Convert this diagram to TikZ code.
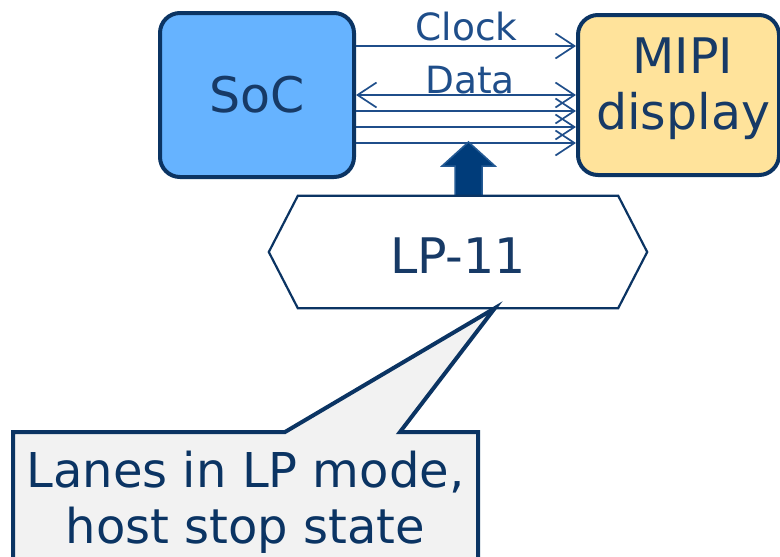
\documentclass[tikz,border=0pt]{standalone}
\usepackage{fontspec}
\setmainfont{DejaVu Sans}
\usetikzlibrary{arrows.meta,calc}
\definecolor{navy}{HTML}{0B3463}
\definecolor{inktext}{HTML}{173A66}
\definecolor{wire}{HTML}{1F4E8A}
\definecolor{socfill}{HTML}{66B3FF}
\definecolor{dispfill}{HTML}{FFE39B}
\definecolor{boltfill}{HTML}{003C7A}
\definecolor{boltedge}{HTML}{245A94}
\definecolor{notefill}{HTML}{F2F2F2}
\tikzset{
  unit/.style={draw=navy, line width=4pt, rounded corners=20pt},
  bigtext/.style={text=inktext, font=\fontsize{49}{56}\selectfont, inner sep=0pt},
  wiretext/.style={text=wire, font=\fontsize{37.5}{42}\selectfont, inner sep=0pt, anchor=base},
  sig/.style={draw=wire, line width=1.7pt},
  barb/.tip={Straight Barb[length=19pt,width=25pt,line width=1.7pt]},
  hexline/.style={draw=navy, line width=2.2pt, fill=white, line join=miter},
  bolt/.style={fill=boltfill, draw=boltedge, line width=1.5pt, line join=miter},
  note/.style={draw=navy, fill=notefill, line width=4pt, line join=miter},
  notetext/.style={text=navy, font=\fontsize{48}{56}\selectfont, inner sep=0pt, anchor=base},
}
\begin{document}
\begin{tikzpicture}[x=1pt,y=-1pt]
\useasboundingbox (0,0) rectangle (780,557);

% the two blocks
\node[unit, fill=socfill, minimum width=194pt, minimum height=164pt] (soc) at (257,95) {};
\node[unit, fill=dispfill, minimum width=201pt, minimum height=160pt] (mipi) at (678.5,95) {};
\node[bigtext, anchor=base] (soctext) at (soc.center |- 0,112) {SoC};
\node[bigtext, anchor=base] (mipitext1) at (683,73) {MIPI};
\node[bigtext, anchor=base] (mipitext2) at (683,129) {display};

% lanes between the blocks
\coordinate (yclk) at (0,46);
\coordinate (yd0) at (0,95);
\coordinate (yd1) at (0,111);
\coordinate (yd2) at (0,127);
\coordinate (yd3) at (0,143);
\draw[sig, -barb] (soc.east |- yclk) -- (mipi.west |- yclk);
\draw[sig, barb-barb] (soc.east |- yd0) -- (mipi.west |- yd0);
\draw[sig, -barb] (soc.east |- yd1) -- (mipi.west |- yd1);
\draw[sig, -barb] (soc.east |- yd2) -- (mipi.west |- yd2);
\draw[sig, -barb] (soc.east |- yd3) -- (mipi.west |- yd3);
\node[wiretext] (clk) at (466.5,40) {Clock};
\node[wiretext] (data) at (470,93) {Data};

% block arrow from the state box up to the lanes
\coordinate (boltbase) at (468.5,202);
\draw[bolt, shift={(boltbase)}] (-13.5,0) -- (-13.5,-36) -- (-26.5,-36) -- (0,-60)
  -- (26.5,-36) -- (13.5,-36) -- (13.5,0) -- cycle;

% LP-11 state hexagon
\path node[minimum width=378pt, minimum height=112pt, inner sep=0pt] (hex) at (458,252) {};
\draw[hexline] (hex.west) -- ($(hex.north west)+(29,0)$) -- ($(hex.north east)+(-29,0)$)
  -- (hex.east) -- ($(hex.south east)+(-29,0)$) -- ($(hex.south west)+(29,0)$) -- cycle;
\node[bigtext, anchor=base] (lp) at (458,273) {LP-11};

% callout note
\coordinate (tip) at ($(hex.south west)+(226,0)$);
\draw[note] (13,432) -- (285,432) -- (tip) -- (400,432) -- (478,432) -- (478,580)
  -- (13,580) -- cycle;
\node[notetext] (note1) at (245.5,487) {Lanes in LP mode,};
\node[notetext] (note2) at (245.5,543) {host stop state};
\end{tikzpicture}
\end{document}
